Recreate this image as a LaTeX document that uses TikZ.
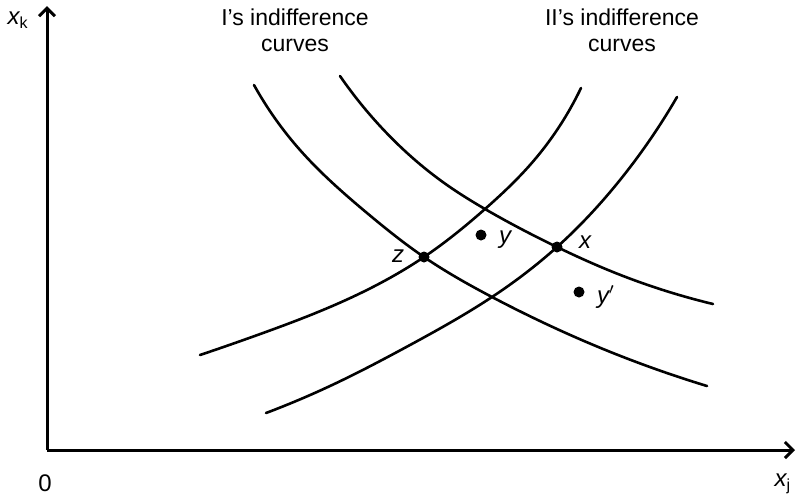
\documentclass[tikz,border=0pt]{standalone}
\usepackage{fontspec}
\setmainfont{Liberation Sans}
\usetikzlibrary{arrows.meta,hobby}

\begin{document}
\begin{tikzpicture}[x=0.5pt,y=-0.5pt,
  curve/.style={line width=1.3pt,line cap=round,use Hobby shortcut},
  dot/.style={circle,fill,inner sep=0pt,minimum size=5.5pt},
  lab/.style={font=\fontsize{12}{14}\selectfont\itshape},
  head/.style={font=\fontsize{11.5}{13}\selectfont,align=center}]
\useasboundingbox (0,0) rectangle (797,495);
% axes
\coordinate (o) at (47,450);
\coordinate (ytop) at (47,6);
\coordinate (xend) at (795,450);
\draw[line width=1.5pt,-{Straight Barb[length=4pt,width=8pt]}] (o)--(ytop);
\draw[line width=1.5pt,-{Straight Barb[length=4pt,width=8pt]}] (o)--(xend);
\node[lab] (xk) at (18,20) {x\textsubscript{\upshape k}};
\node[head,font=\fontsize{12}{14}\selectfont] (zero) at (45,483) {0};
\node[lab] (xj) at (783,484) {x\textsubscript{\upshape j}};
% I's curves
\draw[curve] (254,85) .. (300,150) .. (367,213) .. (424,257) .. (492,297) .. (613,353) .. (707,386);
\draw[curve] (340,76) .. (380,126) .. (447,185) .. (485,209) .. (557,247) .. (613,272) .. (713,304);
% II's curves
\draw[curve] (200,355) .. (263,333) .. (330,307) .. (424,257) .. (485,209) .. (530,165) .. (581,88);
\draw[curve] (266,413) .. (330,386) .. (410,345) .. (492,297) .. (557,247) .. (620,180) .. (677,97);
\node[head] (headI) at (295,30) {I's indifference\\curves};
\node[head] (headII) at (622,30) {II's indifference\\curves};
% points
\node[dot] (z) at (424,257) {};
\node[dot] (x) at (557,247) {};
\node[dot] (y) at (481,235) {};
\node[dot] (yp) at (579,292) {};
\node[lab] at (398,256) {z};
\node[lab] at (585,242) {x};
\node[lab] at (505,240) {y};
\node[lab] at (606,297) {y$'$};
\end{tikzpicture}
\end{document}
